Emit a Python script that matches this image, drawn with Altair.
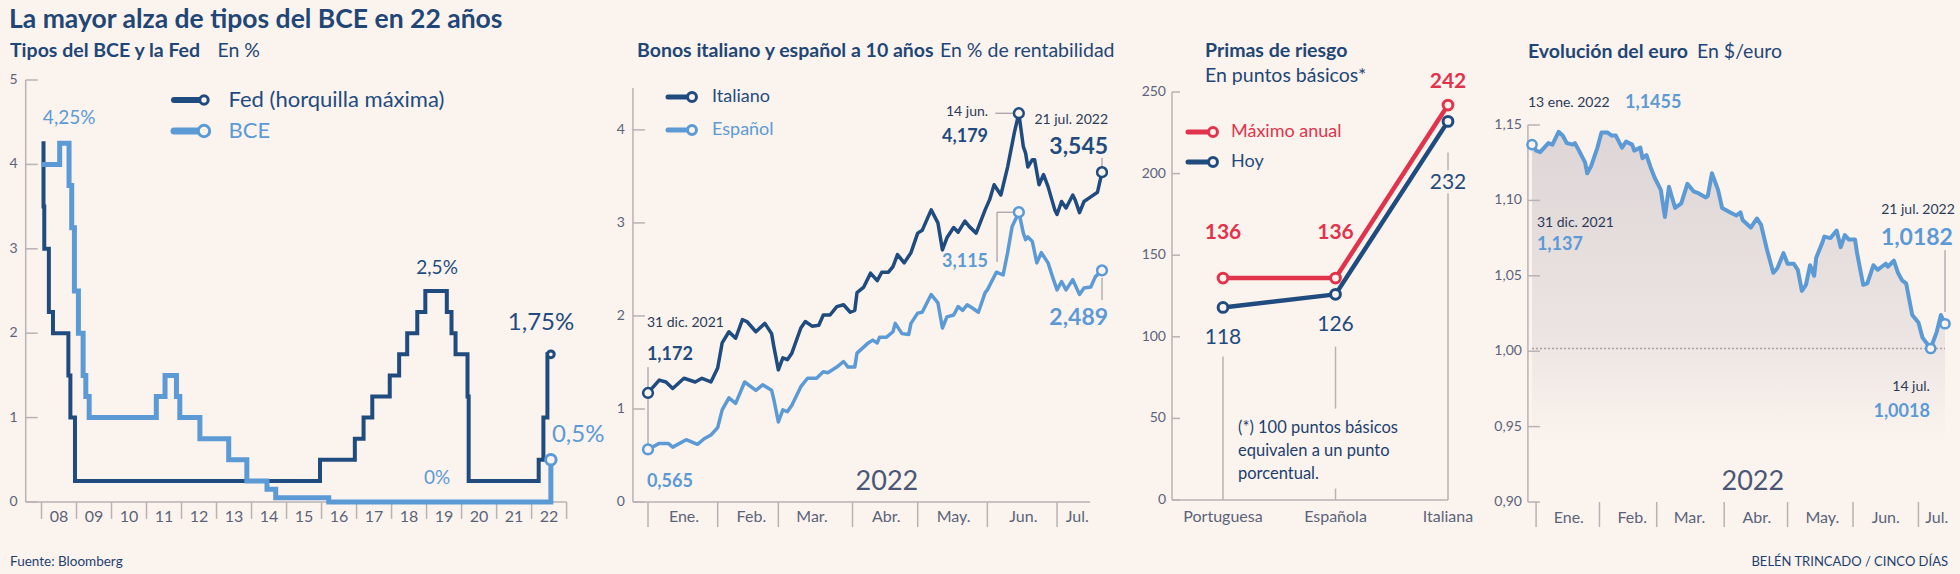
import altair as alt
import numpy as np
import pandas as pd

BG = "#FBF4EE"
NAVY = "#1F4B7E"
LBLUE = "#5B9AD5"
RED = "#E2334C"
TXT = "#1D3F6E"
AX = "#B9B1B3"
TICK = "#5B6379"
LEAD = "#8E8C95"
FONT = "Lato"

# ---------------- Panel 1: Tipos del BCE y la Fed ----------------
fed_dates = ["2008-01-01", "2008-01-22", "2008-01-30", "2008-03-18", "2008-04-30", "2008-10-08",
             "2008-10-29", "2008-12-16", "2015-12-16", "2016-12-14", "2017-03-15", "2017-06-14",
             "2017-12-13", "2018-03-21", "2018-06-13", "2018-09-26", "2018-12-19", "2019-07-31",
             "2019-09-18", "2019-10-30", "2020-03-03", "2020-03-15", "2022-03-16", "2022-05-04",
             "2022-06-15", "2022-07-21"]
fed_vals = [4.25, 3.5, 3.0, 2.25, 2.0, 1.5, 1.0, 0.25, 0.5, 0.75, 1.0, 1.25, 1.5, 1.75, 2.0, 2.25,
            2.5, 2.25, 2.0, 1.75, 1.25, 0.25, 0.5, 1.0, 1.75, 1.75]
bce_dates = ["2008-01-01", "2008-07-09", "2008-10-15", "2008-11-12", "2008-12-10", "2009-01-21",
             "2009-03-11", "2009-04-08", "2009-05-13", "2011-04-13", "2011-07-13", "2011-11-09",
             "2011-12-14", "2012-07-11", "2013-05-08", "2013-11-13", "2014-06-11", "2014-09-10",
             "2016-03-16", "2022-07-21"]
bce_vals = [4.0, 4.25, 3.75, 3.25, 2.5, 2.0, 1.5, 1.25, 1.0, 1.25, 1.5, 1.25, 1.0, 0.75, 0.5, 0.25,
            0.15, 0.05, 0.0, 0.5]
year_labels = ["08", "09", "10", "11", "12", "13", "14", "15", "16", "17", "18", "19", "20", "21", "22"]
year_starts = list(range(2008, 2024))
p1_yticks = [0, 1, 2, 3, 4, 5]

# ---------------- Panel 2: Bonos a 10 años (days since 31 dic. 2021) ----------------
ita_day = [0, 5, 8, 11, 16, 21, 24, 28, 31, 33, 36, 39, 42, 44, 48, 52, 55, 56, 58, 60, 62, 64, 68, 70,
           73, 76, 78, 81, 84, 87, 90, 92, 93, 96, 99, 102, 104, 107, 109, 111, 114, 117, 120, 122,
           126, 129, 131, 133, 136, 138, 141, 143, 146, 150, 152, 154, 157, 160, 163, 165, 167, 168,
           169, 171, 172, 174, 176, 178, 181, 182, 184, 186, 189, 190, 192, 194, 197, 200, 202]
ita_val = [1.172, 1.31, 1.29, 1.22, 1.33, 1.29, 1.33, 1.29, 1.44, 1.71, 1.83, 1.76, 1.96, 1.94, 1.83,
           1.92, 1.81, 1.67, 1.42, 1.55, 1.53, 1.60, 1.87, 1.94, 1.89, 1.90, 2.01, 2.01, 2.10, 2.12,
           2.04, 2.06, 2.25, 2.31, 2.46, 2.38, 2.47, 2.47, 2.53, 2.66, 2.57, 2.68, 2.89, 2.92, 3.14,
           3.00, 2.71, 2.84, 2.95, 2.90, 3.02, 2.96, 2.89, 3.14, 3.25, 3.41, 3.30, 3.60, 3.97, 4.179,
           3.82, 3.75, 3.60, 3.68, 3.68, 3.41, 3.52, 3.39, 3.14, 3.09, 3.23, 3.16, 3.30, 3.25, 3.11,
           3.23, 3.28, 3.33, 3.545]
esp_day = [0, 5, 9, 11, 17, 22, 25, 28, 31, 33, 36, 39, 43, 48, 51, 55, 56, 58, 60, 62, 64, 68, 71, 75,
           78, 80, 84, 87, 89, 92, 93, 98, 100, 102, 103, 106, 109, 110, 113, 116, 117, 120, 122, 126,
           129, 131, 133, 136, 138, 140, 142, 144, 147, 150, 151, 155, 158, 160, 162, 165, 167, 168,
           169, 171, 173, 175, 178, 180, 182, 184, 186, 189, 192, 194, 197, 199, 202]
esp_val = [0.565, 0.63, 0.63, 0.59, 0.67, 0.62, 0.68, 0.72, 0.80, 0.99, 1.12, 1.06, 1.29, 1.20, 1.26,
           1.20, 1.10, 0.86, 0.99, 0.97, 1.04, 1.24, 1.33, 1.33, 1.40, 1.39, 1.45, 1.51, 1.45, 1.45,
           1.60, 1.71, 1.74, 1.71, 1.77, 1.77, 1.83, 1.92, 1.81, 1.80, 1.92, 2.03, 2.04, 2.23, 2.14,
           1.87, 1.99, 2.01, 2.10, 2.06, 2.12, 2.09, 2.04, 2.25, 2.28, 2.47, 2.44, 2.68, 2.96, 3.115,
           2.89, 2.82, 2.85, 2.80, 2.57, 2.68, 2.57, 2.42, 2.28, 2.37, 2.28, 2.39, 2.23, 2.30, 2.31,
           2.42, 2.489]
months = ["Ene.", "Feb.", "Mar.", "Abr.", "May.", "Jun.", "Jul."]
p2_sep_day = [0, 31, 58, 91, 120, 151, 182]
p2_mid_day = [16, 46, 73, 106, 136, 167, 191]
p2_yticks = [0, 1, 2, 3, 4]

# ---------------- Panel 3: Primas de riesgo ----------------
primas_cats = ["Portuguesa", "Española", "Italiana"]
primas_max = [136, 136, 242]
primas_hoy = [118, 126, 232]
p3_yticks = [0, 50, 100, 150, 200, 250]

# ---------------- Panel 4: Evolución del euro (days since 31 dic. 2021) ----------------
eur_day = [0, 2, 4, 6, 8, 10, 13, 15, 17, 20, 21, 23, 26, 27, 29, 32, 34, 37, 39, 41, 44, 46, 49, 50,
           53, 54, 56, 58, 60, 63, 65, 67, 70, 73, 76, 79, 81, 85, 86, 88, 91, 93, 97, 100, 102, 103,
           107, 110, 112, 115, 118, 120, 123, 125, 128, 130, 132, 134, 136, 138, 139, 142, 143, 146,
           149, 151, 153, 155, 158, 159, 162, 164, 167, 169, 173, 174, 177, 179, 181, 183, 186, 189,
           191, 195, 198, 200, 202]
eur_val = [1.137, 1.133, 1.132, 1.135, 1.138, 1.137, 1.1455, 1.143, 1.138, 1.137, 1.138, 1.133, 1.125,
           1.118, 1.123, 1.135, 1.145, 1.145, 1.143, 1.143, 1.135, 1.139, 1.137, 1.133, 1.135, 1.128,
           1.130, 1.122, 1.115, 1.107, 1.089, 1.109, 1.095, 1.098, 1.111, 1.106, 1.105, 1.102, 1.103,
           1.118, 1.107, 1.095, 1.092, 1.090, 1.092, 1.087, 1.082, 1.088, 1.084, 1.067, 1.052, 1.055,
           1.065, 1.058, 1.058, 1.054, 1.040, 1.044, 1.057, 1.050, 1.062, 1.072, 1.076, 1.075, 1.080,
           1.069, 1.077, 1.074, 1.074, 1.065, 1.044, 1.045, 1.057, 1.054, 1.058, 1.056, 1.060, 1.052,
           1.047, 1.045, 1.024, 1.019, 1.009, 1.0018, 1.013, 1.024, 1.0182]
p4_sep_day = [2, 33, 61, 94, 125, 157, 189]
p4_mid_day = [18, 49, 77, 110, 142, 173, 198]
p4_yticks = [0.90, 0.95, 1.00, 1.05, 1.10, 1.15]
p4_ylabels = ["0,90", "0,95", "1,00", "1,05", "1,10", "1,15"]


# ---------------- helpers ----------------
def decyear(dates):
    d = pd.to_datetime(pd.Series(dates))
    ndays = np.where(d.dt.is_leap_year, 366, 365)
    return (d.dt.year + (d.dt.dayofyear - 1) / ndays).to_numpy()


def X(f, sc):
    return alt.X(f, type="quantitative", scale=sc, axis=None)


def Y(f, sc):
    return alt.Y(f, type="quantitative", scale=sc, axis=None)


def hrules(x1, x2, ys, sx, sy, color=AX, width=1.5, dash=None):
    df = pd.DataFrame({"y": list(np.atleast_1d(ys))})
    df["x"] = x1
    df["x2"] = x2
    kw = dict(color=color, strokeWidth=width)
    if dash:
        kw["strokeDash"] = dash
    return alt.Chart(df).mark_rule(**kw).encode(x=X("x", sx), x2=alt.X2("x2"), y=Y("y", sy))


def vrules(xs, y1, y2, sx, sy, color=AX, width=1.5):
    df = pd.DataFrame({"x": list(np.atleast_1d(xs))})
    df["y"] = y1
    df["y2"] = y2
    return alt.Chart(df).mark_rule(color=color, strokeWidth=width).encode(
        x=X("x", sx), y=Y("y", sy), y2=alt.Y2("y2"))


def dtexts(texts, xs, ys, sx, sy, size, color, weight="normal", align="center",
           baseline="middle", dx=0, dy=0):
    df = pd.DataFrame({"t": list(texts), "x": list(np.atleast_1d(xs)), "y": list(np.atleast_1d(ys))})
    return alt.Chart(df).mark_text(font=FONT, fontSize=size, color=color, fontWeight=weight,
                                   align=align, baseline=baseline, dx=dx, dy=dy).encode(
        text="t:N", x=X("x", sx), y=Y("y", sy))


def circles(xs, ys, sx, sy, color, size=90, sw=2.5):
    df = pd.DataFrame({"x": list(np.atleast_1d(xs)), "y": list(np.atleast_1d(ys))})
    return alt.Chart(df).mark_point(shape="circle", filled=True, fill=BG, stroke=color,
                                    strokeWidth=sw, size=size, opacity=1).encode(
        x=X("x", sx), y=Y("y", sy))


def one():
    return pd.DataFrame({"a": [0]})


def ptext(text, x, y, size, color=TXT, weight="normal", align="left", baseline="alphabetic"):
    return alt.Chart(pd.DataFrame({"t": [text]})).mark_text(
        font=FONT, fontSize=size, color=color, fontWeight=weight, align=align,
        baseline=baseline).encode(text="t:N", x=alt.value(x), y=alt.value(y))


def legend_item(x1, x2, y, color, width, csize, label, tx, size=18):
    line = alt.Chart(one()).mark_rule(color=color, strokeWidth=width, strokeCap="round").encode(
        x=alt.value(x1), x2=alt.value(x2), y=alt.value(y))
    dot = alt.Chart(one()).mark_point(shape="circle", filled=True, fill=BG, stroke=color,
                                      strokeWidth=3, size=csize, opacity=1).encode(
        x=alt.value(x2), y=alt.value(y))
    return [line, dot, ptext(label, tx, y, size, color, baseline="middle")]


# ---------------- Panel 1 ----------------
P1_PX = 35.0  # pixels per year
sx1 = alt.Scale(domain=[2008, 2023], range=[41.5, 566.6], nice=False, zero=False)
sy1 = alt.Scale(domain=[0, 5], range=[502, 80], nice=False, zero=False)
ax1 = 2008 - (41.5 - 25.7) / P1_PX
fed_df = pd.DataFrame({"x": decyear(fed_dates), "v": fed_vals})
bce_df = pd.DataFrame({"x": decyear(bce_dates), "v": bce_vals})
end1 = decyear(["2022-07-21"])[0]

p1 = [
    hrules(ax1, 2023, [0], sx1, sy1),
    vrules([ax1], 0, 5, sx1, sy1),
    hrules(ax1, ax1 + 12 / P1_PX, p1_yticks, sx1, sy1),
    dtexts([str(v) for v in p1_yticks], [ax1] * 6, p1_yticks, sx1, sy1, 14, TICK,
           align="right", dx=-8),
    vrules(year_starts, 0, -0.2, sx1, sy1),
    dtexts(year_labels, [y + 0.5 for y in year_starts[:-1]], [-0.18] * 15, sx1, sy1, 16, TICK),
    alt.Chart(fed_df).mark_line(interpolate="step-after", color=NAVY, strokeWidth=4,
                                strokeJoin="miter").encode(x=X("x", sx1), y=Y("v", sy1)),
    alt.Chart(bce_df).mark_line(interpolate="step-after", color=LBLUE, strokeWidth=5,
                                strokeJoin="miter").encode(x=X("x", sx1), y=Y("v", sy1)),
    circles([end1], [1.75], sx1, sy1, NAVY, size=45, sw=3),
    circles([end1], [0.5], sx1, sy1, LBLUE, size=110, sw=3),
    dtexts(["4,25%"], [2008.79], [4.55], sx1, sy1, 19, LBLUE),
    dtexts(["2,5%"], [2019.30], [2.77], sx1, sy1, 19, NAVY),
    dtexts(["1,75%"], [2022.27], [2.12], sx1, sy1, 24, NAVY),
    dtexts(["0,5%"], [2023.33], [0.79], sx1, sy1, 24, LBLUE),
    dtexts(["0%"], [2019.30], [0.28], sx1, sy1, 19, LBLUE),
]
p1 += legend_item(174, 204, 100, NAVY, 6, 70, "Fed (horquilla máxima)", 228.5, size=22)
p1 += legend_item(174, 204, 131, LBLUE, 7, 130, "BCE", 228.5, size=22)

# ---------------- Panel 2 ----------------
sx2 = alt.Scale(domain=[0, 202], range=[648, 1102], nice=False, zero=False)
sy2 = alt.Scale(domain=[0, 4.45], range=[502, 88], nice=False, zero=False)
ax2 = -6.7
ita_df = pd.DataFrame({"x": ita_day, "v": ita_val})
esp_df = pd.DataFrame({"x": esp_day, "v": esp_val})

p2 = [
    hrules(ax2, 196.7, [0], sx2, sy2),
    vrules([ax2], 0, 4.45, sx2, sy2),
    hrules(ax2, ax2 + 12 / 2.2475, p2_yticks, sx2, sy2),
    dtexts([str(v) for v in p2_yticks], [ax2] * 5, p2_yticks, sx2, sy2, 14, TICK,
           align="right", dx=-8),
    vrules(p2_sep_day, 0, -0.27, sx2, sy2),
    dtexts(months, p2_mid_day, [-0.16] * 7, sx2, sy2, 16, TICK),
    dtexts(["2022"], [106.3], [0.215], sx2, sy2, 27, "#4A5676"),
    # leaders
    vrules([0], 0.565, 1.45, sx2, sy2, LEAD, 1),
    hrules(154.5, 163, [4.179], sx2, sy2, LEAD, 1),
    vrules([155.3], 2.58, 3.115, sx2, sy2, LEAD, 1),
    hrules(155.3, 163, [3.115], sx2, sy2, LEAD, 1),
    vrules([202], 3.58, 3.70, sx2, sy2, LEAD, 1),
    vrules([202], 2.17, 2.41, sx2, sy2, LEAD, 1),
    alt.Chart(esp_df).mark_line(color=LBLUE, strokeWidth=3.5, strokeJoin="round").encode(
        x=X("x", sx2), y=Y("v", sy2)),
    alt.Chart(ita_df).mark_line(color=NAVY, strokeWidth=3.5, strokeJoin="round").encode(
        x=X("x", sx2), y=Y("v", sy2)),
    circles([0, 165, 202], [1.172, 4.179, 3.545], sx2, sy2, NAVY, size=95),
    circles([0, 165, 202], [0.565, 3.115, 2.489], sx2, sy2, LBLUE, size=95),
    dtexts(["14 jun."], [151.3], [4.19], sx2, sy2, 14, "#2B3A58", align="right"),
    dtexts(["4,179"], [151.3], [3.92], sx2, sy2, 18, NAVY, "bold", align="right"),
    dtexts(["21 jul. 2022"], [204.7], [4.11], sx2, sy2, 14, "#2B3A58", align="right"),
    dtexts(["3,545"], [204.7], [3.82], sx2, sy2, 23, NAVY, "bold", align="right"),
    dtexts(["3,115"], [151.3], [2.58], sx2, sy2, 18, LBLUE, "bold", align="right"),
    dtexts(["2,489"], [204.7], [1.98], sx2, sy2, 23, LBLUE, "bold", align="right"),
    dtexts(["31 dic. 2021"], [-0.5], [1.925], sx2, sy2, 14, "#2B3A58", align="left"),
    dtexts(["1,172"], [-0.5], [1.58], sx2, sy2, 18, NAVY, "bold", align="left"),
    dtexts(["0,565"], [-0.5], [0.215], sx2, sy2, 18, LBLUE, "bold", align="left"),
]
p2 += legend_item(668, 692, 97, NAVY, 5, 80, "Italiano", 712)
p2 += legend_item(668, 692, 130, LBLUE, 5, 80, "Español", 712)

# ---------------- Panel 3 ----------------
sx3 = alt.Scale(domain=[0, 2], range=[1223, 1448], nice=False, zero=False)
sy3 = alt.Scale(domain=[0, 250], range=[500, 92], nice=False, zero=False)
ax3 = (1172 - 1223) / 112.5
idx = list(range(len(primas_cats)))
max_df = pd.DataFrame({"x": idx, "v": primas_max})
hoy_df = pd.DataFrame({"x": idx, "v": primas_hoy})

p3 = [
    hrules(ax3, 2, [0], sx3, sy3),
    vrules([ax3], 0, 250, sx3, sy3),
    hrules(ax3, ax3 + 8 / 112.5, p3_yticks, sx3, sy3),
    dtexts([str(v) for v in p3_yticks], [ax3] * 6, p3_yticks, sx3, sy3, 14, TICK,
           align="right", dx=-6),
    dtexts(primas_cats, idx, [-10.4] * 3, sx3, sy3, 16, TICK),
    vrules([0], 0, 88, sx3, sy3),
    vrules([1], 0, 7, sx3, sy3),
    vrules([1], 56, 94, sx3, sy3),
    vrules([2], 0, 188, sx3, sy3),
    vrules([2], 202, 213, sx3, sy3),
    alt.Chart(max_df).mark_line(color=RED, strokeWidth=4.5, strokeJoin="round").encode(
        x=X("x", sx3), y=Y("v", sy3)),
    alt.Chart(hoy_df).mark_line(color=NAVY, strokeWidth=4.5, strokeJoin="round").encode(
        x=X("x", sx3), y=Y("v", sy3)),
    circles(idx, primas_max, sx3, sy3, RED, size=95, sw=3),
    circles(idx, primas_hoy, sx3, sy3, NAVY, size=95, sw=3),
    dtexts(["136", "136", "242"], idx, [163.6, 163.6, 256], sx3, sy3, 21, RED, "bold"),
    dtexts(["118", "126", "232"], idx, [99.3, 107, 194], sx3, sy3, 21, NAVY),
    ptext("(*) 100 puntos básicos", 1238, 428, 16.5, TXT, baseline="middle"),
    ptext("equivalen a un punto", 1238, 451, 16.5, TXT, baseline="middle"),
    ptext("porcentual.", 1238, 474, 16.5, TXT, baseline="middle"),
]
p3 += legend_item(1188, 1213, 132, RED, 5, 80, "Máximo anual", 1231)
p3 += legend_item(1188, 1213, 162, NAVY, 5, 80, "Hoy", 1231)

# ---------------- Panel 4 ----------------
sx4 = alt.Scale(domain=[0, 202], range=[1532, 1945], nice=False, zero=False)
sy4 = alt.Scale(domain=[0.90, 1.15], range=[502, 125], nice=False, zero=False)
ax4 = -2
eur_df = pd.DataFrame({"x": eur_day, "v": eur_val})
eur_df["b"] = 0.90
grad = alt.Gradient(
    gradient="linear",
    stops=[alt.GradientStop(color=BG, offset=0),
           alt.GradientStop(color=BG, offset=0.15),
           alt.GradientStop(color="#ECE4E2", offset=0.45),
           alt.GradientStop(color="#DED6D6", offset=1)],
    x1=1, x2=1, y1=1, y2=0)

p4 = [
    alt.Chart(eur_df).mark_area(color=grad).encode(x=X("x", sx4), y=Y("v", sy4), y2=alt.Y2("b")),
    vrules([ax4], 0.90, 1.15, sx4, sy4),
    hrules(ax4, ax4 + 12 / 2.045, p4_yticks, sx4, sy4),
    dtexts(p4_ylabels, [ax4] * 6, p4_yticks, sx4, sy4, 14, TICK, align="right", dx=-6),
    vrules(p4_sep_day, 0.90, 0.8834, sx4, sy4),
    dtexts(months, p4_mid_day, [0.8894] * 7, sx4, sy4, 16, TICK),
    dtexts(["2022"], [108], [0.913], sx4, sy4, 27, "#4A5676"),
    hrules(0, 202, [1.0018], sx4, sy4, "#A89E9D", 1.3, dash=[2, 2]),
    vrules([202], 1.026, 1.067, sx4, sy4, LEAD, 1),
    alt.Chart(eur_df).mark_line(color=LBLUE, strokeWidth=4, strokeJoin="round").encode(
        x=X("x", sx4), y=Y("v", sy4)),
    circles([0, 195, 202], [1.137, 1.0018, 1.0182], sx4, sy4, LBLUE, size=85),
    dtexts(["13 ene. 2022"], [-2], [1.1646], sx4, sy4, 14, "#2B3A58", align="left"),
    dtexts(["1,1455"], [45.5], [1.1646], sx4, sy4, 18, LBLUE, "bold", align="left"),
    dtexts(["31 dic. 2021"], [2.4], [1.085], sx4, sy4, 14, "#2B3A58", align="left"),
    dtexts(["1,137"], [2.4], [1.0703], sx4, sy4, 18, LBLUE, "bold", align="left"),
    dtexts(["21 jul. 2022"], [206.8], [1.0936], sx4, sy4, 14, "#2B3A58", align="right"),
    dtexts(["1,0182"], [205.9], [1.075], sx4, sy4, 23, LBLUE, "bold", align="right"),
    dtexts(["14 jul."], [194.6], [0.976], sx4, sy4, 14, "#2B3A58", align="right"),
    dtexts(["1,0018"], [194.6], [0.9594], sx4, sy4, 18, LBLUE, "bold", align="right"),
]

# ---------------- Titles & footer ----------------
TITLE = "#1F4676"
SUB = 19.5
glob = [
    ptext("La mayor alza de tipos del BCE en 22 años", 9, 28, 26.5, TITLE, "bold"),
    ptext("Tipos del BCE y la Fed", 10, 57, SUB, TITLE, "bold"),
    ptext("En %", 217.5, 57, SUB, TITLE),
    ptext("Bonos italiano y español a 10 años", 637, 57, SUB, TITLE, "bold"),
    ptext("En % de rentabilidad", 940, 57, SUB, TITLE),
    ptext("Primas de riesgo", 1205, 57, SUB, TITLE, "bold"),
    ptext("En puntos básicos*", 1205, 82, SUB, TITLE),
    ptext("Evolución del euro", 1528, 58, SUB, TITLE, "bold"),
    ptext("En $/euro", 1697, 58, SUB, TITLE),
    ptext("Fuente: Bloomberg", 10, 566, 13.5, TXT),
    ptext("BELÉN TRINCADO / CINCO DÍAS", 1948, 566, 13, TXT, align="right"),
]

chart = alt.layer(
    alt.layer(*p1), alt.layer(*p2), alt.layer(*p3), alt.layer(*p4), alt.layer(*glob)
).resolve_scale(x="independent", y="independent").properties(
    width=1960, height=574, padding=0, background=BG,
    autosize=alt.AutoSizeParams(type="none"),
).configure_view(stroke=None)

chart.save("out.html", embed_options={"renderer": "svg", "actions": False})
